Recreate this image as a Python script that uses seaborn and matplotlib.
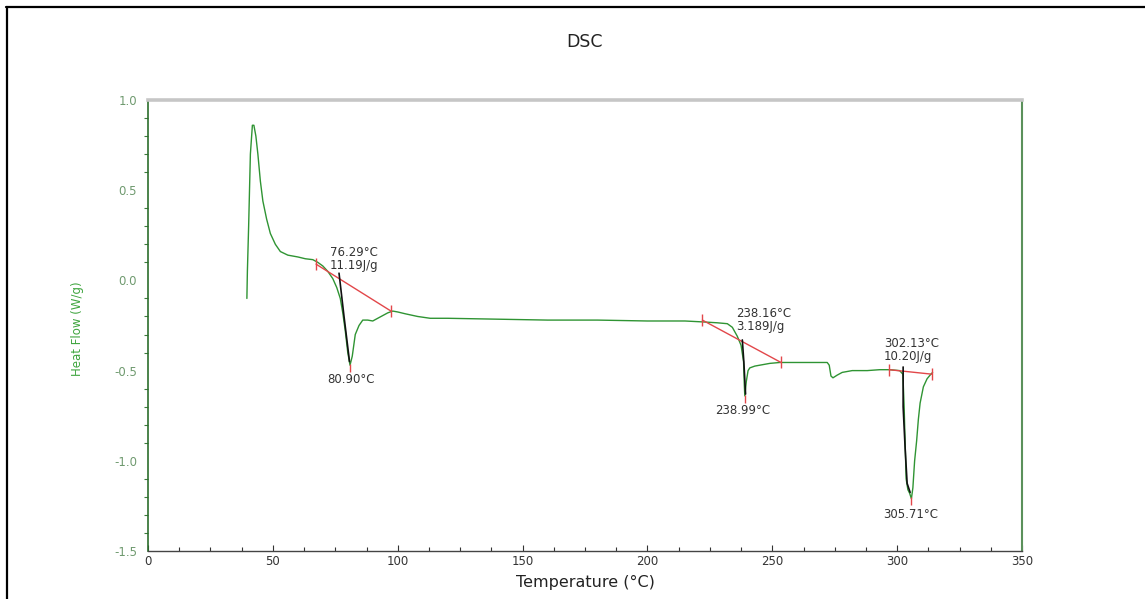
import numpy as np
import pandas as pd
import seaborn as sns
import matplotlib.pyplot as plt
from matplotlib.lines import Line2D
from matplotlib.ticker import MultipleLocator

# DSC trace: temperature (°C) and heat flow (W/g)
temperature = [39.6, 39.8, 40.3, 41.0, 41.8, 42.4, 43.2, 44.0, 45.0, 46.0,
               47.5, 49.0, 51.0, 53.0, 56.0, 60.0, 63.0, 66.0, 68.0, 70.0,
               72.0, 74.0, 75.6, 77.0, 78.0, 79.0, 80.0, 80.9, 81.8, 83.0,
               84.5, 86.0, 88.0, 90.0, 92.0, 94.0, 96.0, 98.0, 100.0, 103.0,
               108.0, 113.0, 120.0, 140.0, 160.0, 180.0, 200.0, 215.0, 222.0, 228.0,
               232.0, 234.0, 236.0, 237.5, 238.5, 238.8, 238.99, 239.6, 240.3, 241.0,
               243.0, 245.0, 249.0, 253.0, 258.0, 265.0, 272.0, 272.8, 273.5, 274.3,
               276.0, 278.0, 282.0, 288.0, 293.0, 297.0, 301.0, 302.3, 302.8, 303.2,
               303.6, 304.3, 305.0, 305.71, 306.3, 307.0, 307.8, 308.5, 309.2, 310.5,
               312.0, 313.5, 314.2]
heat_flow = [-0.10, 0.05, 0.30, 0.70, 0.86, 0.86, 0.80, 0.70, 0.55, 0.44,
             0.34, 0.26, 0.20, 0.16, 0.14, 0.13, 0.12, 0.115, 0.10, 0.08,
             0.05, 0.01, -0.04, -0.10, -0.18, -0.28, -0.40, -0.47, -0.42, -0.30,
             -0.25, -0.22, -0.22, -0.225, -0.21, -0.195, -0.18, -0.17, -0.175, -0.185,
             -0.20, -0.21, -0.21, -0.215, -0.22, -0.22, -0.225, -0.225, -0.23, -0.235,
             -0.24, -0.26, -0.31, -0.36, -0.45, -0.58, -0.64, -0.56, -0.50, -0.485,
             -0.475, -0.47, -0.46, -0.455, -0.455, -0.455, -0.455, -0.47, -0.53, -0.54,
             -0.525, -0.51, -0.50, -0.50, -0.495, -0.495, -0.50, -0.52, -0.70, -0.90,
             -1.10, -1.16, -1.18, -1.21, -1.15, -1.00, -0.89, -0.77, -0.68, -0.59,
             -0.545, -0.52, -0.51]

# Peak analysis results
onset_temps = [76.29, 238.16, 302.13]
peak_temps = [80.90, 238.99, 305.71]
peak_flows = [-0.47, -0.64, -1.21]
enthalpy_labels = ["11.19J/g", "3.189J/g", "10.20J/g"]

# Integration baselines (start/end temperature and heat flow)
baseline_x = [[67.3, 97.3], [222.0, 253.5], [296.8, 314.0]]
baseline_y = [[0.09, -0.17], [-0.22, -0.455], [-0.495, -0.52]]

# Leading-edge tangents drawn from the onset down the peak
tangent_x = [[76.5, 78.5, 80.7], [238.0, 238.6, 239.3], [302.4, 302.4, 303.2, 304.0, 305.2]]
tangent_y = [[0.04, -0.20, -0.45], [-0.33, -0.45, -0.63], [-0.48, -0.70, -0.93, -1.125, -1.175]]

# Label anchor positions (temperature, heat flow)
onset_label_pos = [(72.9, 0.155), (235.5, -0.183), (294.8, -0.35)]
peak_label_pos = [(81.3, -0.55), (238.0, -0.72), (305.6, -1.30)]

sns.set_theme(style="white")
plt.rcParams['font.family'] = ['DejaVu Sans']

W, H = 1145, 599
fig = plt.figure(figsize=(W / 100, H / 100), dpi=100)
ax = fig.add_axes([148 / W, 1 - 551 / H, (1022 - 148) / W, (551 - 100) / H])

curve_green = '#2f9433'
trace = pd.DataFrame({'Temperature': temperature, 'HeatFlow': heat_flow})
sns.lineplot(data=trace, x='Temperature', y='HeatFlow', ax=ax, color=curve_green,
             linewidth=1.0, sort=False, estimator=None)

red = '#e2474a'
for bx, by in zip(baseline_x, baseline_y):
    ax.plot(bx, by, color=red, linewidth=1.0)
    ax.plot(bx, by, linestyle='none', marker='|', markersize=9, color=red,
            markeredgewidth=1.0)

for tx, ty in zip(tangent_x, tangent_y):
    ax.plot(tx, ty, color='#111111', linewidth=1.2)

# peak position markers
ax.plot(peak_temps, [f - 0.015 for f in peak_flows], linestyle='none', marker='|',
        markersize=6, color=red, markeredgewidth=1.0)

txt_color = '#333333'
for (lx, ly), t, e in zip(onset_label_pos, onset_temps, enthalpy_labels):
    ax.text(lx, ly, f"{t:.2f}°C", fontsize=8.5, color=txt_color, ha='left', va='center')
    ax.text(lx, ly - 0.073, e, fontsize=8.5, color=txt_color, ha='left', va='center')
for (lx, ly), t in zip(peak_label_pos, peak_temps):
    ax.text(lx, ly, f"{t:.2f}°C", fontsize=8.5, color=txt_color, ha='center', va='center')

ax.set_xlim(0, 350)
ax.set_ylim(-1.5, 1.0)
ax.xaxis.set_major_locator(MultipleLocator(50))
ax.xaxis.set_minor_locator(MultipleLocator(12.5))
ax.yaxis.set_major_locator(MultipleLocator(0.5))
ax.yaxis.set_minor_locator(MultipleLocator(0.1))
ax.set_yticks([1.0, 0.5, 0.0, -0.5, -1.0, -1.5])
ax.set_yticklabels(['1.0', '0.5', '0.0', '-0.5', '-1.0', '-1.5'])
ax.set_xticks([0, 50, 100, 150, 200, 250, 300, 350])
ax.set_xticklabels(['0', '50', '100', '150', '200', '250', '300', '350'])

ax.tick_params(axis='y', which='major', direction='out', length=5, width=0.8,
               color='#3d7a3d', labelcolor='#6f9a6f', labelsize=8.5, pad=3)
ax.tick_params(axis='y', which='minor', direction='out', length=3, width=0.8,
               color='#3d7a3d', left=True)
ax.tick_params(axis='x', which='major', direction='in', length=4, width=0.8,
               color='#333333', labelcolor='#333333', labelsize=8.5, pad=3, bottom=True)
ax.tick_params(axis='x', which='minor', direction='in', length=3, width=0.8,
               color='#333333', bottom=True)

for side in ['top', 'bottom', 'left', 'right']:
    ax.spines[side].set_visible(True)
ax.spines['top'].set_color('#c6c6c6')
ax.spines['top'].set_linewidth(2.6)
ax.spines['left'].set_color('#2c6e2c')
ax.spines['left'].set_linewidth(1.2)
ax.spines['right'].set_color('#5b915b')
ax.spines['right'].set_linewidth(1.5)
ax.spines['bottom'].set_color('#444444')
ax.spines['bottom'].set_linewidth(1.0)

ax.set_xlabel('Temperature (°C)', fontsize=11.5, color='#222222', labelpad=5)
ax.set_ylabel('Heat Flow (W/g)', fontsize=8.5, color='#3fa53f')
ax.yaxis.set_label_coords(-0.073, 0.492)

fig.text(585 / W, 1 - 42 / H, 'DSC', fontsize=12.5, color='#222222', ha='center', va='center')

# page frame: top and left edges
fig.add_artist(Line2D([6 / W, 1.0], [1 - 7 / H, 1 - 7 / H], transform=fig.transFigure,
                      color='black', linewidth=1.6))
fig.add_artist(Line2D([7 / W, 7 / W], [0.0, 1 - 7 / H], transform=fig.transFigure,
                      color='black', linewidth=1.6))

fig.savefig('out.png', dpi=100, facecolor='white')
